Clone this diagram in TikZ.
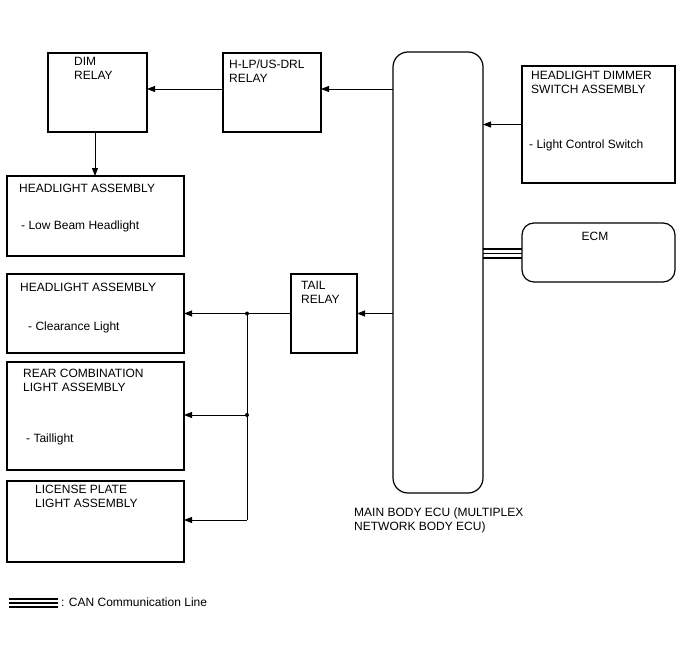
\documentclass[tikz,border=0pt]{standalone}
\usepackage{fontspec}
\setmainfont{Liberation Sans}
\usetikzlibrary{arrows.meta}
\begin{document}
\begin{tikzpicture}[x=1pt,y=-1pt,
  box/.style={draw,line width=1.2pt,rectangle,inner sep=0pt,outer sep=0pt},
  rbox/.style={box,rounded corners=#1},
  lbl/.style={anchor=base west,inner sep=0pt,font=\fontsize{12}{14}\selectfont},
  arr/.style={line width=0.8pt,-{Triangle[length=8pt,width=6pt]}},
  wire/.style={line width=0.8pt},
  can/.style={line width=1.6pt},
  dot/.style={circle,fill,inner sep=0pt,minimum size=4pt}]
\useasboundingbox (0,0) rectangle (688,658);
% boxes
\node[box,minimum width=99pt,minimum height=79pt] (dim) at (97.5,92.5) {};
\node[box,minimum width=98pt,minimum height=79pt] (hlp) at (272,92.5) {};
\node[box,minimum width=177pt,minimum height=80pt] (hl1) at (95.5,216) {};
\node[box,minimum width=153pt,minimum height=117pt] (sw) at (598.5,124.5) {};
\node[rbox=12pt,minimum width=153pt,minimum height=59pt] (ecm) at (598.5,252.5) {};
\node[rbox=15pt,minimum width=90pt,minimum height=441pt] (ecu) at (438,272.5) {};
\node[box,minimum width=177pt,minimum height=79pt] (hl2) at (95.5,313.5) {};
\node[box,minimum width=66pt,minimum height=79pt] (tail) at (324,313.5) {};
\node[box,minimum width=177pt,minimum height=108pt] (rear) at (95.5,416) {};
\node[box,minimum width=177pt,minimum height=81pt] (lic) at (95.5,521.5) {};
% texts
\node[lbl] (t1) at (74,66) {DIM};
\node[lbl] (t2) at (74,80) {RELAY};
\node[lbl] (t3) at (229,69) {H-LP/US-DRL};
\node[lbl] (t4) at (229,83) {RELAY};
\node[lbl] (t5) at (19,193) {HEADLIGHT ASSEMBLY};
\node[lbl] (t6) at (21,229) {- Low Beam Headlight};
\node[lbl] (t7) at (531,80) {HEADLIGHT DIMMER};
\node[lbl] (t8) at (531,94) {SWITCH ASSEMBLY};
\node[lbl] (t9) at (529,149) {- Light Control Switch};
\node[lbl,anchor=base] (t10) at (595,240) {ECM};
\node[lbl] (t11) at (20,291) {HEADLIGHT ASSEMBLY};
\node[lbl] (t12) at (28,330) {- Clearance Light};
\node[lbl] (t13) at (301,289) {TAIL};
\node[lbl] (t14) at (301,303) {RELAY};
\node[lbl] (t15) at (23,377) {REAR COMBINATION};
\node[lbl] (t16) at (23,391) {LIGHT ASSEMBLY};
\node[lbl] (t17) at (26,442) {- Taillight};
\node[lbl] (t18) at (35,493) {LICENSE PLATE};
\node[lbl] (t19) at (35,507) {LIGHT ASSEMBLY};
\node[lbl] (t20) at (354,516) {MAIN BODY ECU (MULTIPLEX};
\node[lbl] (t21) at (354,530) {NETWORK BODY ECU)};
\node[lbl] (t22) at (61,606) {: CAN Communication Line};
% connectors
\draw[arr] (ecu.west |- 0,89) -- (hlp.east |- 0,89);
\draw[arr] (hlp.west |- 0,89) -- (dim.east |- 0,89);
\draw[arr] (dim.south -| 95,0) -- (hl1.north -| 95,0);
\draw[arr] (sw.west) -- (ecu.east |- sw.west);
\draw[arr] (ecu.west |- tail.east) -- (tail.east);
\coordinate (j1) at (247,313.5);
\coordinate (j2) at (247,415);
\coordinate (j3) at (247,520);
\draw[arr] (tail.west) -- (hl2.east |- tail.west);
\draw[wire] (j1) -- (j3);
\draw[arr] (j2) -- (rear.east |- j2);
\draw[arr] (j3) -- (lic.east |- j3);
\node[dot] (d1) at (j1) {};
\node[dot] (d2) at (j2) {};
% CAN lines
\foreach \yy in {249,253.5,258} \draw[can] (ecu.east |- 0,\yy) -- (ecm.west |- 0,\yy);
\coordinate (l1) at (9,0);
\coordinate (l2) at (58,0);
\foreach \yy in {599,603,607} \draw[can] (l1 |- 0,\yy) -- (l2 |- 0,\yy);
\end{tikzpicture}
\end{document}
